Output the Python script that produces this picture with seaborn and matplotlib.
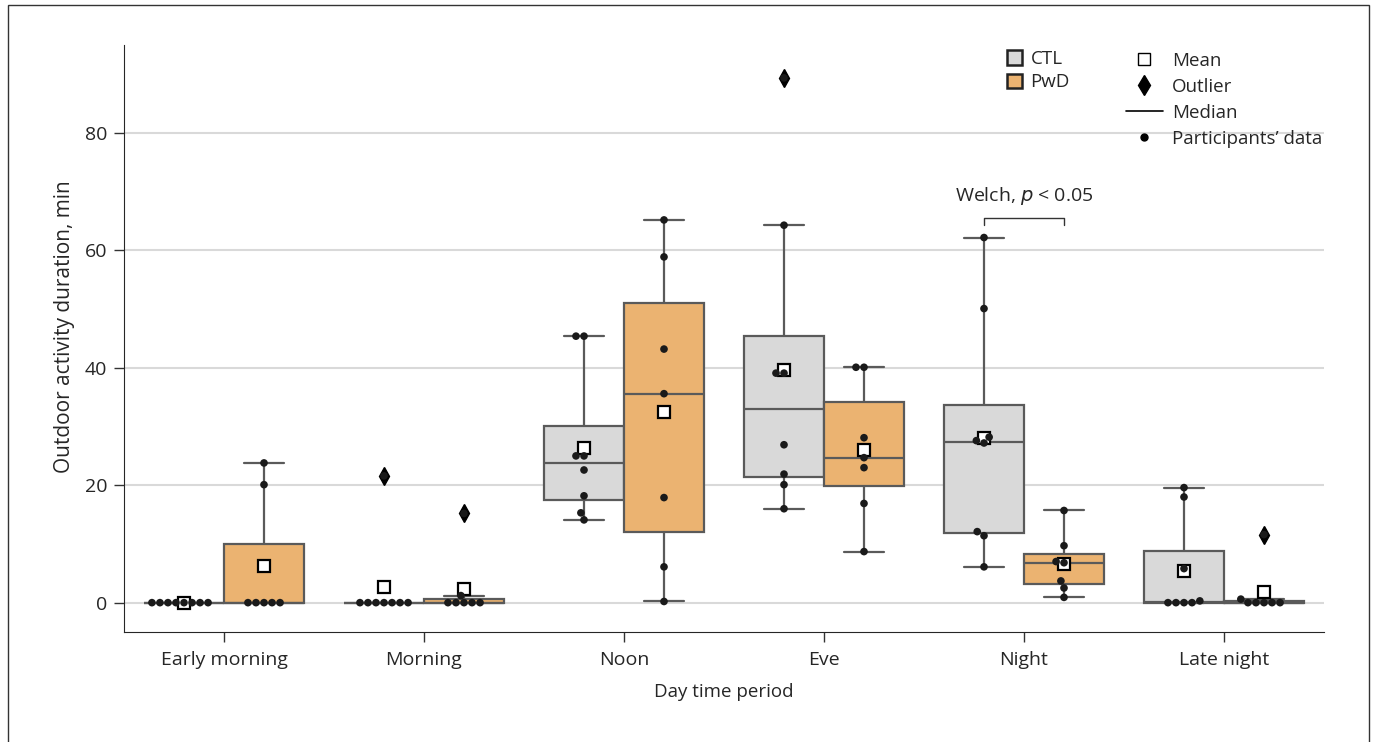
import pandas as pd
import numpy as np
import matplotlib
matplotlib.use("Agg")
import matplotlib.pyplot as plt
from matplotlib.patches import Patch, Rectangle
from matplotlib.lines import Line2D
import seaborn as sns

# Dados (minutos de atividade ao ar livre)
periods = ["Early morning", "Morning", "Noon", "Eve", "Night", "Late night"]

ctl_early_morning = [0, 0, 0, 0, 0, 0, 0, 0]
ctl_morning = [0, 0, 0, 0, 0, 0, 0, 21.6]
ctl_noon = [45.4, 45.4, 25.0, 25.0, 22.6, 18.2, 15.3, 14.1]
ctl_eve = [89.4, 64.3, 39.1, 39.1, 26.9, 21.9, 20.1, 16.0]
ctl_night = [62.2, 50.1, 28.2, 27.6, 27.2, 12.1, 11.4, 6.1]
ctl_late_night = [19.6, 18.0, 5.8, 0.3, 0, 0, 0, 0]

pwd_early_morning = [23.8, 20.1, 0, 0, 0, 0, 0]
pwd_morning = [15.2, 1.2, 0, 0, 0, 0, 0]
pwd_noon = [65.2, 58.9, 43.2, 35.6, 17.9, 6.1, 0.2]
pwd_eve = [40.1, 40.1, 28.1, 24.7, 23.0, 16.9, 8.7]
pwd_night = [15.7, 9.7, 7.0, 6.8, 3.7, 2.5, 0.9]
pwd_late_night = [11.6, 0.6, 0, 0, 0, 0, 0]

ctl_lists = [ctl_early_morning, ctl_morning, ctl_noon, ctl_eve, ctl_night, ctl_late_night]
pwd_lists = [pwd_early_morning, pwd_morning, pwd_noon, pwd_eve, pwd_night, pwd_late_night]

rows = []
for period, ctl, pwd in zip(periods, ctl_lists, pwd_lists):
    for v in ctl:
        rows.append({"period": period, "group": "CTL", "minutes": v})
    for v in pwd:
        rows.append({"period": period, "group": "PwD", "minutes": v})
df = pd.DataFrame(rows)

cores = {"CTL": "#d9d9d9", "PwD": "#ebb371"}
cor_linha = "#5a5a5a"

sns.set_style("ticks")
plt.rcParams['font.family'] = ['Open Sans', 'DejaVu Sans']

fig = plt.figure(figsize=(13.75, 7.42), dpi=100)
ax = fig.add_axes([124 / 1375, 110 / 742, 1200 / 1375, 587 / 742])

sns.boxplot(data=df, x="period", y="minutes", hue="group", order=periods,
            hue_order=["CTL", "PwD"], palette=cores, saturation=1, width=0.8, gap=0,
            linecolor=cor_linha, linewidth=1.6, showmeans=True,
            meanprops=dict(marker="s", markerfacecolor="white", markeredgecolor="black",
                           markersize=9, markeredgewidth=1.6),
            flierprops=dict(marker="d", markerfacecolor="black", markeredgecolor="black",
                            markersize=9),
            legend=False, ax=ax)

sns.swarmplot(data=df, x="period", y="minutes", hue="group", order=periods,
              hue_order=["CTL", "PwD"], palette={"CTL": "#1a1a1a", "PwD": "#1a1a1a"},
              dodge=True, size=5.5, legend=False, ax=ax, zorder=5)

ax.set_xlim(-0.5, 5.5)
ax.set_ylim(-5, 95)
ax.set_yticks([0, 20, 40, 60, 80])
ax.yaxis.grid(True, color="#d9d9d9", linewidth=1.5)
ax.set_axisbelow(True)
sns.despine(ax=ax)
ax.tick_params(labelsize=14, length=7, width=1, color="#333333", pad=5)
ax.tick_params(axis="x", pad=7)
ax.set_xlabel("Day time period", fontsize=13.5, labelpad=10)
ax.set_ylabel("Outdoor activity duration, min", fontsize=15, labelpad=10)
ax.yaxis.set_label_coords(-0.041, 0.52)

# Anotação Welch
ax.plot([3.8, 3.8, 4.2, 4.2], [64.3, 65.5, 65.5, 64.3], color="#333333", linewidth=1)
ax.text(4, 67.4, "Welch, $p$ < 0.05", ha="center", va="bottom", fontsize=14)

# Legendas
leg1 = fig.legend(handles=[Patch(facecolor=cores["CTL"], edgecolor="#222222", linewidth=1.8, label="CTL"),
                           Patch(facecolor=cores["PwD"], edgecolor="#222222", linewidth=1.8, label="PwD")],
                  loc="upper left", bbox_to_anchor=(1007 / 1375, 1 - 50 / 742), frameon=False,
                  fontsize=13.5, handlelength=0.8, handleheight=0.8, handletextpad=0.45,
                  borderpad=0, borderaxespad=0, labelspacing=0.29)
leg2 = fig.legend(handles=[Line2D([], [], marker="s", linestyle="none", markerfacecolor="white",
                                  markeredgecolor="black", markersize=9, label="Mean"),
                           Line2D([], [], marker="d", linestyle="none", color="black",
                                  markersize=10, label="Outlier"),
                           Line2D([], [], color="black", linewidth=1.2, label="Median"),
                           Line2D([], [], marker="o", linestyle="none", color="black",
                                  markersize=5, label="Participants\u2019 data")],
                  loc="upper left", bbox_to_anchor=(1126 / 1375, 1 - 52 / 742), frameon=False,
                  fontsize=13.5, handlelength=1.95, handletextpad=0.5,
                  borderpad=0, borderaxespad=0, labelspacing=0.42)

# Moldura da figura
fig.patches.append(Rectangle((8 / 1375, -0.01), 1361 / 1375, 1.01 - 5 / 742,
                             transform=fig.transFigure, fill=False,
                             edgecolor="#333333", linewidth=1))

fig.savefig("out.png", dpi=100)
